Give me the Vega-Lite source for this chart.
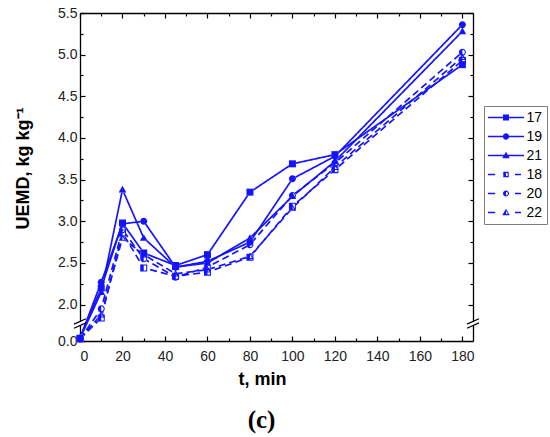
{
  "$schema": "https://vega.github.io/schema/vega-lite/v6.json",
  "description": "UEMD against time for six runs, y axis broken between 0 and 2",
  "width": 393,
  "height": 328,
  "autosize": "none",
  "padding": {"left": 80, "top": 13, "right": 77, "bottom": 96},
  "title": {
    "text": "(c)",
    "orient": "bottom",
    "font": "Liberation Serif",
    "fontSize": 25,
    "fontWeight": "bold",
    "color": "black",
    "offset": 20,
    "dx": -15
  },
  "config": {
    "view": {"stroke": null},
    "axis": {
      "grid": false,
      "zindex": 0,
      "domainColor": "black",
      "domainWidth": 1.3,
      "tickColor": "black",
      "tickWidth": 1.2,
      "labelFont": "Liberation Sans",
      "labelFontSize": 14,
      "labelColor": "#222222",
      "titleFont": "Liberation Sans",
      "titleFontSize": 18,
      "titleFontWeight": "bold",
      "titleColor": "black"
    }
  },
  "datasets": {
    "uemd": [
      {"series": "17", "t": 0, "v": 0.08}, {"series": "17", "t": 10, "v": 2.2}, {"series": "17", "t": 20, "v": 2.98},
      {"series": "17", "t": 30, "v": 2.62}, {"series": "17", "t": 45, "v": 2.47}, {"series": "17", "t": 60, "v": 2.6},
      {"series": "17", "t": 80, "v": 3.35}, {"series": "17", "t": 100, "v": 3.69}, {"series": "17", "t": 120, "v": 3.8},
      {"series": "17", "t": 180, "v": 4.88},
      {"series": "19", "t": 0, "v": 0.08}, {"series": "19", "t": 10, "v": 2.27}, {"series": "19", "t": 20, "v": 2.97},
      {"series": "19", "t": 30, "v": 3.0}, {"series": "19", "t": 45, "v": 2.45}, {"series": "19", "t": 60, "v": 2.52},
      {"series": "19", "t": 80, "v": 2.75}, {"series": "19", "t": 100, "v": 3.51}, {"series": "19", "t": 120, "v": 3.78},
      {"series": "19", "t": 180, "v": 5.36},
      {"series": "21", "t": 0, "v": 0.08}, {"series": "21", "t": 10, "v": 2.15}, {"series": "21", "t": 20, "v": 3.38},
      {"series": "21", "t": 30, "v": 2.8}, {"series": "21", "t": 45, "v": 2.45}, {"series": "21", "t": 60, "v": 2.5},
      {"series": "21", "t": 80, "v": 2.8}, {"series": "21", "t": 100, "v": 3.3}, {"series": "21", "t": 120, "v": 3.72},
      {"series": "21", "t": 180, "v": 5.28},
      {"series": "18", "t": 0, "v": 0.06}, {"series": "18", "t": 10, "v": 1.84}, {"series": "18", "t": 20, "v": 2.86},
      {"series": "18", "t": 30, "v": 2.44}, {"series": "18", "t": 45, "v": 2.34}, {"series": "18", "t": 60, "v": 2.39},
      {"series": "18", "t": 80, "v": 2.57}, {"series": "18", "t": 100, "v": 3.18}, {"series": "18", "t": 120, "v": 3.62},
      {"series": "18", "t": 180, "v": 4.93},
      {"series": "20", "t": 0, "v": 0.06}, {"series": "20", "t": 10, "v": 1.95}, {"series": "20", "t": 20, "v": 2.9},
      {"series": "20", "t": 30, "v": 2.55}, {"series": "20", "t": 45, "v": 2.33}, {"series": "20", "t": 60, "v": 2.45},
      {"series": "20", "t": 80, "v": 2.72}, {"series": "20", "t": 100, "v": 3.31}, {"series": "20", "t": 120, "v": 3.7},
      {"series": "20", "t": 180, "v": 5.03},
      {"series": "22", "t": 0, "v": 0.06}, {"series": "22", "t": 10, "v": 1.88}, {"series": "22", "t": 20, "v": 2.8},
      {"series": "22", "t": 30, "v": 2.6}, {"series": "22", "t": 45, "v": 2.37}, {"series": "22", "t": 60, "v": 2.42},
      {"series": "22", "t": 80, "v": 2.58}, {"series": "22", "t": 100, "v": 3.16}, {"series": "22", "t": 120, "v": 3.65},
      {"series": "22", "t": 180, "v": 4.97}
    ]
  },
  "data": {"name": "uemd"},
  "layer": [
    {
      "mark": {"type": "line", "color": "#1414ff", "strokeWidth": 1.7},
      "encoding": {
        "x": {
          "field": "t",
          "type": "quantitative",
          "scale": {"domain": [0, 185], "nice": false, "zero": false},
          "axis": {
            "orient": "bottom",
            "title": "t, min",
            "values": [0, 20, 40, 60, 80, 100, 120, 140, 160, 180],
            "tickSize": -5,
            "labelPadding": 13,
            "titleX": 182,
            "titleY": 38,
            "titleBaseline": "middle"
          }
        },
        "y": {
          "field": "v",
          "type": "quantitative",
          "scale": {"domain": [0, 0.4, 1.8, 5.5], "range": [328, 314, 308.3, 0], "nice": false, "zero": false},
          "axis": {
            "orient": "left",
            "title": "UEMD, kg kg⁻¹",
            "values": [0, 2, 2.5, 3, 3.5, 4, 4.5, 5, 5.5],
            "format": ".1f",
            "tickSize": -5,
            "labelPadding": 8,
            "titleX": -57,
            "titleY": 155,
            "titleBaseline": "middle"
          }
        },
        "strokeDash": {
          "field": "series",
          "type": "nominal",
          "scale": {
            "domain": ["17", "19", "21", "18", "20", "22"],
            "range": [[1, 0], [1, 0], [1, 0], [7, 4], [7, 4], [7, 4]]
          },
          "legend": null
        }
      }
    },
    {
      "mark": {"type": "point", "filled": true, "color": "white", "size": 49, "opacity": 1, "strokeWidth": 0},
      "encoding": {
        "x": {
          "field": "t",
          "type": "quantitative",
          "axis": {
            "orient": "bottom",
            "labels": false,
            "domain": false,
            "title": null,
            "values": [10, 30, 50, 70, 90, 110, 130, 150, 170],
            "tickSize": -3
          }
        },
        "y": {
          "field": "v",
          "type": "quantitative",
          "axis": {
            "orient": "left",
            "labels": false,
            "domain": false,
            "title": null,
            "values": [2.25, 2.75, 3.25, 3.75, 4.25, 4.75, 5.25],
            "tickSize": -3
          }
        },
        "shape": {
          "field": "series",
          "type": "nominal",
          "scale": {
            "domain": ["17", "19", "21", "18", "20", "22"],
            "range": [
              "M-1,-1H1V1H-1Z",
              "M-1,0A1,1 0 1,1 1,0A1,1 0 1,1 -1,0Z",
              "M0,-1.1L1.1,0.8L-1.1,0.8Z",
              "M-1,-1H1V1H-1Z",
              "M-1,0A1,1 0 1,1 1,0A1,1 0 1,1 -1,0Z",
              "M0,-1.1L1.1,0.8L-1.1,0.8Z"
            ]
          },
          "legend": null
        }
      }
    },
    {
      "mark": {"type": "point", "filled": true, "color": "#1414ff", "strokeWidth": 0, "size": 49, "opacity": 1},
      "encoding": {
        "x": {
          "field": "t",
          "type": "quantitative",
          "axis": {
            "orient": "top",
            "labels": false,
            "domain": false,
            "title": null,
            "values": [10, 30, 50, 70, 90, 110, 130, 150, 170],
            "tickSize": -3
          }
        },
        "y": {
          "field": "v",
          "type": "quantitative",
          "axis": {
            "orient": "right",
            "labels": false,
            "domain": false,
            "title": null,
            "values": [2.25, 2.75, 3.25, 3.75, 4.25, 4.75, 5.25],
            "tickSize": -3
          }
        },
        "shape": {
          "field": "series",
          "type": "nominal",
          "scale": {
            "domain": ["17", "19", "21", "18", "20", "22"],
            "range": [
              "M-1,-1H1V1H-1Z",
              "M-1,0A1,1 0 1,1 1,0A1,1 0 1,1 -1,0Z",
              "M0,-1.1L1.1,0.8L-1.1,0.8Z",
              "M-1,-1H0V1H-1Z M0,-1H1V1H0V0.7H0.7V-0.7H0Z",
              "M0,-1A1,1 0 0,0 0,1Z M0,-1A1,1 0 0,1 0,1V0.7A0.7,0.7 0 0,0 0,-0.7Z",
              "M0,-1.1L-1.1,0.8H0Z M0,-1.1L1.1,0.8H0V0.5H0.58L0,-0.5Z"
            ]
          },
          "legend": null
        }
      }
    },
    {
      "data": {"values": []},
      "mark": {"type": "point", "filled": true, "color": "#1414ff", "strokeWidth": 0, "opacity": 1},
      "encoding": {
        "x": {
          "field": "t",
          "type": "quantitative",
          "axis": {
            "orient": "top",
            "labels": false,
            "title": null,
            "values": [0, 20, 40, 60, 80, 100, 120, 140, 160, 180],
            "tickSize": -5
          }
        },
        "y": {
          "field": "v",
          "type": "quantitative",
          "axis": {
            "orient": "right",
            "labels": false,
            "title": null,
            "values": [2, 2.5, 3, 3.5, 4, 4.5, 5, 5.5],
            "tickSize": -5
          }
        },
        "shape": {
          "field": "series",
          "type": "nominal",
          "scale": {
            "domain": ["17", "19", "21", "18", "20", "22"],
            "range": [
              "M-2.4,-0.1H2.4V0.1H-2.4Z M-0.4,-0.4H0.4V0.4H-0.4Z",
              "M-2.4,-0.1H2.4V0.1H-2.4Z M-0.42,0A0.42,0.42 0 1,1 0.42,0A0.42,0.42 0 1,1 -0.42,0Z",
              "M-2.4,-0.1H2.4V0.1H-2.4Z M0,-0.5L0.5,0.35H-0.5Z",
              "M-2.4,-0.1H-1.45V0.1H-2.4Z M1.2,-0.1H2V0.1H1.2Z M-0.36,-0.36H0V0.36H-0.36Z M0,-0.36H0.36V0.36H0V0.21H0.21V-0.21H0Z",
              "M-2.4,-0.1H-1.45V0.1H-2.4Z M1.2,-0.1H2V0.1H1.2Z M0,-0.4A0.4,0.4 0 0,0 0,0.4Z M0,-0.4A0.4,0.4 0 0,1 0,0.4V0.25A0.25,0.25 0 0,0 0,-0.25Z",
              "M-2.4,-0.1H-1.45V0.1H-2.4Z M1.2,-0.1H2V0.1H1.2Z M0,-0.5L-0.5,0.35H0Z M0,-0.5L0.5,0.35H0V0.2H0.25L0,-0.22Z"
            ]
          },
          "legend": {
            "title": null,
            "orient": "none",
            "legendX": 404,
            "legendY": 93,
            "symbolSize": 225,
            "symbolStrokeWidth": 0,
            "symbolFillColor": "#1414ff",
            "symbolOpacity": 1,
            "symbolOffset": 10.5,
            "labelFont": "Liberation Sans",
            "labelFontSize": 14,
            "labelColor": "black",
            "labelOffset": 13,
            "strokeColor": "#7f7f7f",
            "padding": 4,
            "rowPadding": 4
          }
        }
      }
    },
    {
      "data": {"values": [{}]},
      "mark": {"type": "point", "filled": true, "color": "white", "size": 144, "opacity": 1, "strokeWidth": 0},
      "encoding": {
        "x": {"datum": 0, "type": "quantitative", "axis": null},
        "y": {"datum": 1.26, "type": "quantitative", "axis": null},
        "shape": {"value": "M-0.3,-0.35H0.3V0.35H-0.3Z"}
      }
    },
    {
      "data": {"values": [{}]},
      "mark": {"type": "point", "filled": true, "color": "white", "size": 144, "opacity": 1, "strokeWidth": 0},
      "encoding": {
        "x": {"datum": 185, "type": "quantitative", "axis": null},
        "y": {"datum": 1.26, "type": "quantitative", "axis": null},
        "shape": {"value": "M-0.3,-0.35H0.3V0.35H-0.3Z"}
      }
    },
    {
      "data": {"values": [{}]},
      "mark": {"type": "point", "filled": false, "stroke": "black", "strokeWidth": 1.2, "size": 144, "opacity": 1},
      "encoding": {
        "x": {"datum": 0, "type": "quantitative", "axis": null},
        "y": {"datum": 1.26, "type": "quantitative", "axis": null},
        "shape": {"value": "M-1,0.1L1,-0.8M-1,0.8L1,-0.1"}
      }
    },
    {
      "data": {"values": [{}]},
      "mark": {"type": "point", "filled": false, "stroke": "black", "strokeWidth": 1.2, "size": 144, "opacity": 1},
      "encoding": {
        "x": {"datum": 185, "type": "quantitative", "axis": null},
        "y": {"datum": 1.26, "type": "quantitative", "axis": null},
        "shape": {"value": "M-1,0.1L1,-0.8M-1,0.8L1,-0.1"}
      }
    }
  ],
  "resolve": {
    "scale": {"shape": "independent"},
    "axis": {"x": "independent", "y": "independent"}
  }
}
